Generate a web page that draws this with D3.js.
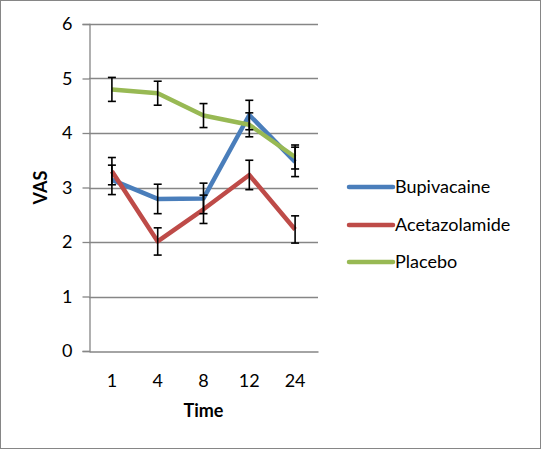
<!DOCTYPE html>
<html><head><meta charset="utf-8">
<script src="https://cdn.jsdelivr.net/npm/d3@7"></script>
<style>html,body{margin:0;padding:0;background:#fff;}svg{display:block;font-family:Lato,"Open Sans",sans-serif;}</style>
</head><body>
<svg id="c" width="541" height="449"></svg>
<script>
const categories = ["1","4","8","12","24"];
const seriesNames = ["Bupivacaine","Acetazolamide","Placebo"];
const bupivacaine = [3.14, 2.79, 2.80, 4.33, 3.47];
const acetazolamide = [3.30, 2.01, 2.60, 3.23, 2.23];
const placebo = [4.80, 4.73, 4.32, 4.15, 3.56];
const bupivacaineErr = [0.27, 0.27, 0.28, 0.27, 0.27];
const acetazolamideErr = [0.25, 0.25, 0.26, 0.27, 0.25];
const placeboErr = [0.22, 0.22, 0.22, 0.22, 0.22];
const yTicks = [0,1,2,3,4,5,6];
const colors = ["#4a7ebb","#be4b48","#98b954"];

const series = [
  {name: seriesNames[0], values: bupivacaine, err: bupivacaineErr, color: colors[0]},
  {name: seriesNames[1], values: acetazolamide, err: acetazolamideErr, color: colors[1]},
  {name: seriesNames[2], values: placebo, err: placeboErr, color: colors[2]}
];

const svg = d3.select("#c");
const pLeft = 89, pRight = 318, pTop = 24, pBottom = 351;
const fs = 18;

svg.append("rect").attr("x",0.5).attr("y",0.5).attr("width",540).attr("height",448)
  .attr("fill","#fff").attr("stroke","#868686").attr("stroke-width",1);

const x = d3.scaleBand().domain(categories).range([pLeft, pRight]);
const y = d3.scaleLinear().domain([0,6]).range([pBottom, pTop]);

// gridlines
svg.append("g").selectAll("line").data(yTicks.filter(d=>d>0)).join("line")
  .attr("x1", pLeft).attr("x2", pRight)
  .attr("y1", d=>Math.round(y(d))+0.5).attr("y2", d=>Math.round(y(d))+0.5)
  .attr("stroke","#868686").attr("stroke-width",1.3);

// y axis
const yAxis = svg.append("g").attr("transform",`translate(${pLeft+0.5},0)`)
  .call(d3.axisLeft(y).tickValues(yTicks).tickSize(7).tickPadding(10).tickFormat(d3.format("d")));
yAxis.select(".domain").attr("stroke","#868686").attr("stroke-width",1.3);
yAxis.selectAll(".tick line").attr("stroke","#868686").attr("stroke-width",1.3);
yAxis.selectAll(".tick text").attr("font-size",fs).attr("fill","#000").attr("font-family","Lato");

// x axis
const xAxis = svg.append("g").attr("transform",`translate(0,${pBottom+0.5})`)
  .call(d3.axisBottom(x).tickSize(0).tickPadding(23));
xAxis.select(".domain").attr("stroke","#868686").attr("stroke-width",1.3);
xAxis.selectAll(".tick text").attr("font-size",fs).attr("fill","#000").attr("font-family","Lato");

// axis titles
svg.append("text").attr("x", (pLeft+pRight)/2).attr("y", 417).attr("text-anchor","middle")
  .attr("font-weight","bold").attr("font-size",fs).text("Time");
svg.append("text").attr("transform",`translate(47,${(pTop+pBottom)/2}) rotate(-90)`)
  .attr("text-anchor","middle").attr("font-weight","bold").attr("font-size",fs).text("VAS");

const cx = d => x(d) + x.bandwidth()/2;
const line = d3.line().x((d,i)=>cx(categories[i])).y(d=>y(d));

svg.append("g").selectAll("path").data(series).join("path")
  .attr("d", s=>line(s.values)).attr("fill","none")
  .attr("stroke", s=>s.color).attr("stroke-width",4.5).attr("stroke-linejoin","round");

// error bars
const eb = svg.append("g").attr("stroke","#000").attr("stroke-width",1.6);
series.forEach(s=>{
  s.values.forEach((v,i)=>{
    const px = cx(categories[i]);
    const y1 = y(v+s.err[i]), y2 = y(v-s.err[i]);
    eb.append("line").attr("x1",px).attr("x2",px).attr("y1",y1).attr("y2",y2);
    eb.append("line").attr("x1",px-4).attr("x2",px+4).attr("y1",y1).attr("y2",y1);
    eb.append("line").attr("x1",px-4).attr("x2",px+4).attr("y1",y2).attr("y2",y2);
  });
});

// legend
const lg = svg.append("g");
const ly = [187, 225, 262];
series.forEach((s,i)=>{
  lg.append("line").attr("x1",349).attr("x2",393).attr("y1",ly[i]).attr("y2",ly[i])
    .attr("stroke",s.color).attr("stroke-width",4.5).attr("stroke-linecap","round");
  lg.append("text").attr("x",395).attr("y",ly[i]+6).attr("font-size",fs).text(s.name);
});
</script>
</body></html>
